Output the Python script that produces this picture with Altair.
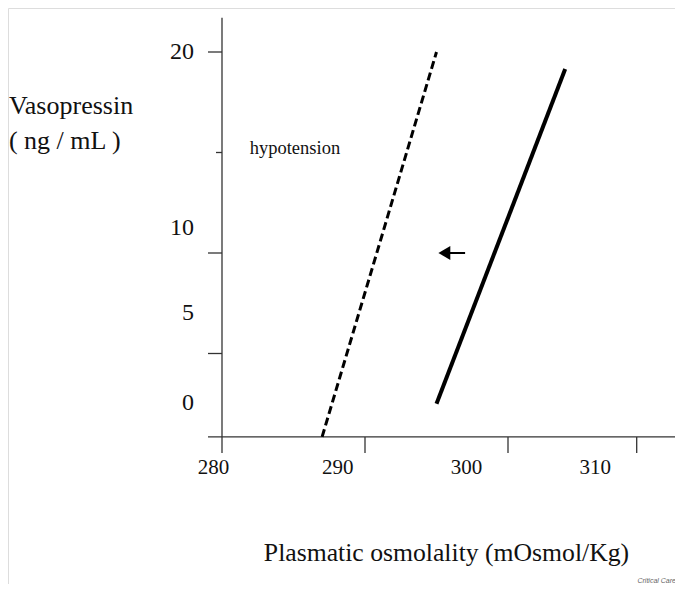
import altair as alt
import pandas as pd

# ---- data (diagram units: x = osmolality, y = vasopressin scale) ----
normal_x = [295.0, 304.0]
normal_y = [2.5, 19.15]
hypo_x = [287.0, 295.0]
hypo_y = [0.85, 20.0]

y_tick_values = [20, 15, 10, 5]
y_tick_long = [True, False, True, True]
y_label_text = ["20", "10", "5", "0"]
y_label_pos = [20.0, 11.25, 7.0, 2.55]

x_tick_values = [290, 300, 309]
x_label_text = ["280", "290", "300", "310"]
x_label_pos = [279.4, 288.1, 297.1, 306.1]

arrow_x = [295.1, 297.0]
arrow_y = [10.0, 10.0]

# ---- scales ----
W, H = 667, 576
xs = alt.Scale(domain=[265.035, 265.035 + W / 14.3], nice=False, zero=False)
ys = alt.Scale(domain=[10 - (584 - 253) / 20.1, 10 + (253 - 8) / 20.1], nice=False, zero=False)
X = lambda f: alt.X(f, type="quantitative", scale=xs, axis=None)
Y = lambda f: alt.Y(f, type="quantitative", scale=ys, axis=None)

AXIS_COLOR = "#333333"
FONT = "Liberation Serif"

# axis lines
yaxis = alt.Chart(pd.DataFrame({"x": [280.0], "y1": [0.05], "y2": [21.7]})).mark_rule(
    color=AXIS_COLOR, strokeWidth=1.3).encode(x=X("x"), y=Y("y1"), y2="y2")
xaxis = alt.Chart(pd.DataFrame({"y": [0.85], "x1": [279.02], "x2": [311.8]})).mark_rule(
    color=AXIS_COLOR, strokeWidth=1.3).encode(y=Y("y"), x=X("x1"), x2="x2")

# y ticks
yt = pd.DataFrame({
    "y": y_tick_values,
    "x1": [279.02 if l else 279.58 for l in y_tick_long],
    "x2": [280.0] * len(y_tick_values),
})
yticks = alt.Chart(yt).mark_rule(color=AXIS_COLOR, strokeWidth=1.3).encode(
    y=Y("y"), x=X("x1"), x2="x2")

# x ticks
xt = pd.DataFrame({"x": x_tick_values, "y1": [0.85] * 3, "y2": [0.05] * 3})
xticks = alt.Chart(xt).mark_rule(color=AXIS_COLOR, strokeWidth=1.3).encode(
    x=X("x"), y=Y("y1"), y2="y2")

# tick labels
ylab = alt.Chart(pd.DataFrame({"t": y_label_text, "y": y_label_pos, "x": [278.05] * 4})).mark_text(
    font=FONT, fontSize=24, align="right", baseline="middle", color="#111").encode(
    x=X("x"), y=Y("y"), text="t")
xlab = alt.Chart(pd.DataFrame({"t": x_label_text, "x": x_label_pos, "y": [-0.7] * 4})).mark_text(
    font=FONT, fontSize=21, align="center", baseline="middle", color="#111").encode(
    x=X("x"), y=Y("y"), text="t")

# data lines
hypo = alt.Chart(pd.DataFrame({"x": hypo_x, "y": hypo_y})).mark_line(
    color="black", strokeWidth=3, strokeDash=[8, 4]).encode(x=X("x"), y=Y("y"))
normal = alt.Chart(pd.DataFrame({"x": normal_x, "y": normal_y})).mark_line(
    color="black", strokeWidth=4).encode(x=X("x"), y=Y("y"))

# arrow
arrow_df = pd.DataFrame({"x": [arrow_x[0] + 0.5], "x2": [arrow_x[1]], "y": [arrow_y[0]]})
arrow_shaft = alt.Chart(arrow_df).mark_rule(color="black", strokeWidth=2).encode(
    x=X("x"), x2="x2", y=Y("y"))
arrow_head = alt.Chart(pd.DataFrame({"x": [arrow_x[0] + 0.45], "y": [arrow_y[0]]})).mark_point(
    shape="triangle-left", filled=True, color="black", size=190, opacity=1).encode(
    x=X("x"), y=Y("y"))

# texts
texts = pd.DataFrame({
    "t": ["hypotension", "Vasopressin", "( ng / mL )", "Plasmatic osmolality (mOsmol/Kg)"],
    "x": [285.1, 265.1, 265.1, 295.7],
    "y": [15.2, 17.3, 15.55, -4.93],
    "size": [18.5, 26, 26, 25.7],
    "align": ["center", "left", "left", "center"],
})
anno = alt.Chart(texts[texts["align"] == "center"]).mark_text(
    font=FONT, align="center", baseline="middle", color="#111").encode(
    x=X("x"), y=Y("y"), text="t", size=alt.Size("size:Q", scale=None, legend=None))
anno_left = alt.Chart(texts[texts["align"] == "left"]).mark_text(
    font=FONT, align="left", baseline="middle", color="#111").encode(
    x=X("x"), y=Y("y"), text="t", size=alt.Size("size:Q", scale=None, legend=None))
credit = alt.Chart(pd.DataFrame({"t": ["Critical Care"], "x": [310.4], "y": [-6.3]})).mark_text(
    font="Liberation Sans", fontStyle="italic", fontSize=7, align="center", baseline="middle",
    color="#666").encode(x=X("x"), y=Y("y"), text="t")

chart = alt.layer(
    yaxis, xaxis, yticks, xticks, ylab, xlab, hypo, normal, arrow_shaft, arrow_head,
    anno, anno_left, credit
).properties(width=W, height=H, autosize=alt.AutoSizeParams(type="none"), padding=0
).configure_view(strokeWidth=0, stroke="transparent").configure(background="transparent")

chart.save("out.html", embed_options={"renderer": "svg", "actions": False})
